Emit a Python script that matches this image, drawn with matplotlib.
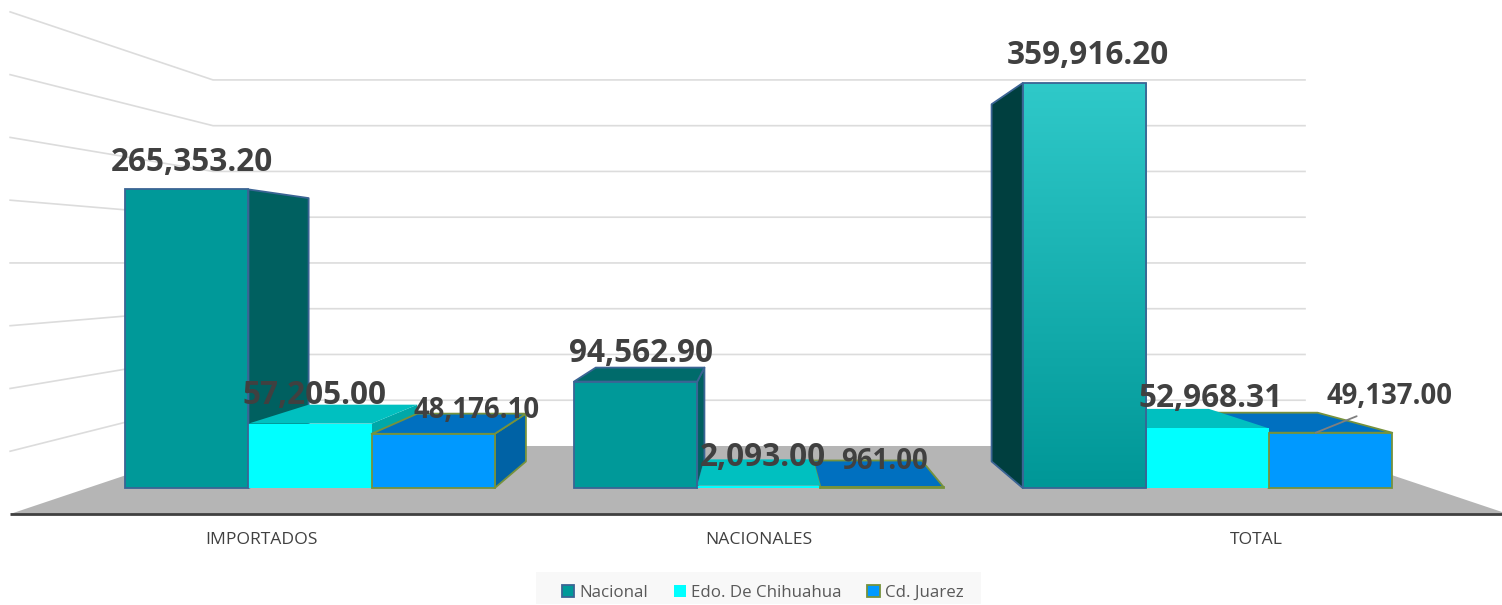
import numpy as np
import matplotlib
matplotlib.use("Agg")
import matplotlib.pyplot as plt
from matplotlib.colors import LinearSegmentedColormap
from matplotlib.patches import Polygon, Patch, Rectangle

# ---------- data ----------
categories = ["IMPORTADOS", "NACIONALES", "TOTAL"]
series_names = ["Nacional", "Edo. De Chihuahua", "Cd. Juarez"]
nacional = [265353.20, 94562.90, 359916.20]
edo_chihuahua = [57205.00, 2093.00, 52968.31]
cd_juarez = [48176.10, 961.00, 49137.00]
grid_values = [50000, 100000, 150000, 200000, 250000, 300000, 350000, 400000]

# ---------- style ----------
plt.rcParams["font.family"] = ["Open Sans", "DejaVu Sans"]
W, H = 1502, 605
PX_PER_X = 448.75
PX_PER_V = 405 / 359916.2
X0_PX, Y0_PX = 310.0, 488.0
BAR_W = 0.2745
K_FRONT, K_BARBACK, K_BACK = 1.1156, 0.882, 0.8133
K_LABEL = 1.1086
XMIN, XMAX = -0.4954, 2.4967
VP = (1.0, (Y0_PX - 263.0) / PX_PER_V)
INK = "#404040"

fig = plt.figure(figsize=(W / 100, H / 100), dpi=100, facecolor="white")
ax = fig.add_axes([0, 0, 1, 1])
xlim = (-X0_PX / PX_PER_X, (W - X0_PX) / PX_PER_X)
ylim = ((Y0_PX - H) / PX_PER_V, Y0_PX / PX_PER_V)
ax.axis("off")


def proj(x, v, k):
    """Perspective placement of a point at x / value, at depth factor k."""
    return VP[0] + k * (x - VP[0]), VP[1] + k * (v - VP[1])


def poly(points, face, edge="none", lw=0.0, z=2):
    ax.add_patch(Polygon(points, closed=True, facecolor=face, edgecolor=edge,
                         linewidth=lw, joinstyle="round", zorder=z))


# floor
poly([proj(XMIN, 0, K_FRONT), proj(XMAX, 0, K_FRONT), proj(XMAX, 0, K_BACK), proj(XMIN, 0, K_BACK)],
     "#b5b5b5", z=1)

# gridlines: back wall + left wall
for g in grid_values:
    pts = [proj(XMIN, g, K_FRONT), proj(XMIN, g, K_BACK), proj(XMAX, g, K_BACK)]
    ax.plot(*zip(*pts), color="#dcdcdc", lw=1.2, zorder=1, solid_joinstyle="miter")

# front base line
ax.plot(*zip(proj(XMIN, 0, K_FRONT), proj(XMAX, 0, K_FRONT)), color=INK, lw=2.0, zorder=1.5,
        solid_capstyle="butt")

# series appearance
front_colors = ["#009999", "#00ffff", "#0099ff"]
top_colors = ["#006b6b", "#00c0c0", "#0070c0"]
side_colors = ["#006060", "#00a8a8", "#0062a5"]
edge_colors = ["#3b6494", "none", "#76923c"]
edge_lw = [1.3, 0.0, 1.3]
series = [nacional, edo_chihuahua, cd_juarez]

items = []
for gi in range(len(categories)):
    for si in range(len(series)):
        xc = gi + (si - 1) * BAR_W
        items.append((abs(xc - VP[0]), gi, si, xc, series[si][gi]))
items.sort(key=lambda t: -t[0])

z = 3.0
for _, gi, si, xc, v in items:
    xl, xr = xc - BAR_W / 2, xc + BAR_W / 2
    edge, lw = edge_colors[si], edge_lw[si]
    side_face = "#003f3f" if (gi == 2 and si == 0) else side_colors[si]
    if xr < VP[0]:
        poly([proj(xr, 0, 1), proj(xr, v, 1), proj(xr, v, K_BARBACK), proj(xr, 0, K_BARBACK)],
             side_face, edge, lw, z)
    elif xl > VP[0]:
        poly([proj(xl, 0, 1), proj(xl, v, 1), proj(xl, v, K_BARBACK), proj(xl, 0, K_BARBACK)],
             side_face, edge, lw, z)
    z += 0.1
    if v < VP[1]:
        poly([proj(xl, v, 1), proj(xr, v, 1), proj(xr, v, K_BARBACK), proj(xl, v, K_BARBACK)],
             top_colors[si], edge, lw, z)
    z += 0.1
    bar = ax.bar(xc, v, width=BAR_W, color=front_colors[si], linewidth=0, zorder=z)[0]
    if gi == 2 and si == 0:
        cmap = LinearSegmentedColormap.from_list("grad", ["#009797", "#2fc9c9"])
        im = ax.imshow(np.linspace(1, 0, 256).reshape(-1, 1), cmap=cmap, aspect="auto",
                       extent=(xl, xr, 0, v), zorder=z + 0.01)
        im.set_clip_path(bar)
    # outlines stay on top of the neighbouring bar faces
    if lw:
        ax.bar(xc, v, width=BAR_W, color="none", edgecolor=edge, linewidth=lw, zorder=15)
    z += 0.1

ax.set_xlim(*xlim)
ax.set_ylim(*ylim)

# value labels: (series, group, dx px, dy px, size)
label_spec = [
    (0, 0, 5.5, 27, 22.7), (1, 0, 5, 28.5, 22.7), (2, 0, 43, 23.5, 19.8),
    (0, 1, 5, 28.5, 22.7), (1, 1, 4.5, 28.5, 22.7), (2, 1, 2.5, 25, 19.8),
    (0, 2, 4, 28, 22.7), (1, 2, 3, 30, 22.7), (2, 2, 59, 36.5, 19.8),
]
for si, gi, dx, dy, size in label_spec:
    xc = gi + (si - 1) * BAR_W
    v = series[si][gi]
    ax.annotate(f"{v:,.2f}", xy=(xc, v), xytext=(dx, dy), textcoords="offset pixels",
                ha="center", va="center", fontsize=size, fontweight="bold", color=INK, zorder=20)

# leader line of the last label
xc_last = 2 + BAR_W
ax.annotate("", xy=(xc_last - 15 / PX_PER_X, cd_juarez[2]), xytext=(41, 16.5), textcoords="offset pixels",
            arrowprops=dict(arrowstyle="-", color="#7f7f7f", lw=1.3, shrinkA=0, shrinkB=0), zorder=19)

# category labels
for gi, name in enumerate(categories):
    x, _ = proj(gi, 0, K_LABEL)
    ax.text(x, (Y0_PX - 539.5) / PX_PER_V, name, ha="center", va="center", fontsize=12.6, color=INK)

# legend
ax.add_patch(Rectangle((536 / W, 1 - 604 / H), 445 / W, 32 / H, transform=fig.transFigure,
                       facecolor="#f8f8f8", edgecolor="none", zorder=25))
handles = [Patch(facecolor=front_colors[i], edgecolor=edge_colors[i], linewidth=1.3 if edge_lw[i] else 0)
           for i in range(3)]
leg = ax.legend(handles, series_names, ncol=3, loc="center", bbox_to_anchor=(762.5 / W, 1 - 593 / H),
                bbox_transform=fig.transFigure, frameon=False, fontsize=12.2, handlelength=0.75,
                handleheight=0.75, handletextpad=0.29, columnspacing=1.5, borderpad=0, labelcolor="#595959")
leg.set_zorder(30)

fig.savefig("out.png", dpi=100, facecolor="white")
